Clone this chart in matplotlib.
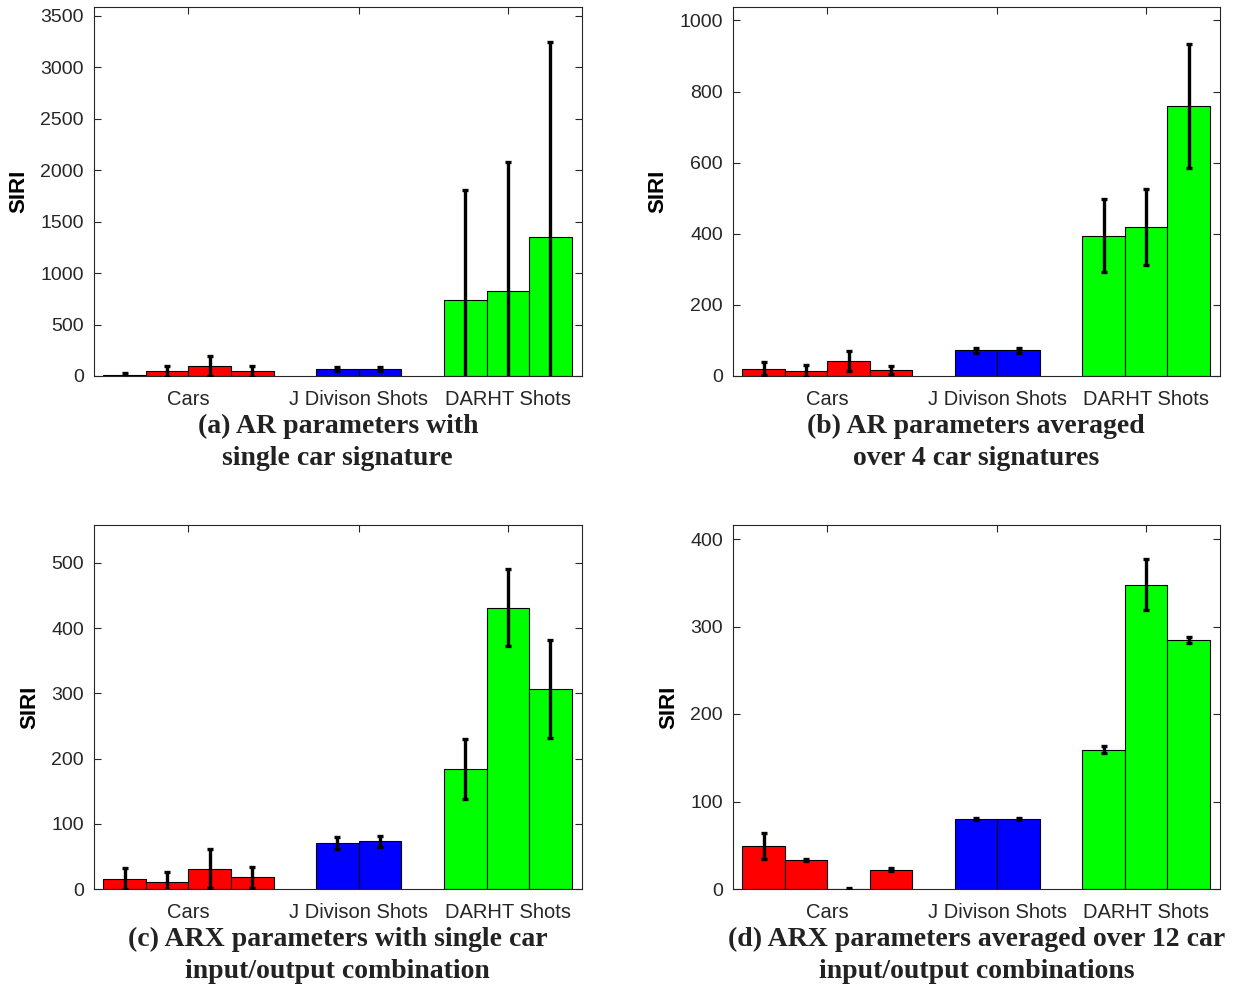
import numpy as np
import matplotlib
matplotlib.use("Agg")
import matplotlib.pyplot as plt

# bar positions: 4 car bars, 2 J Division, 3 DARHT
positions = [1, 2, 3, 4, 6, 7, 9, 10, 11]
bar_colors = ['#ff0000'] * 4 + ['#0000ff'] * 2 + ['#00ff00'] * 3
group_labels = ['Cars', 'J Divison Shots', 'DARHT Shots']
group_ticks = [2.5, 6.5, 10]

a_vals = [5, 45, 95, 45, 68, 68, 735, 830, 1350]
a_err = [20, 50, 95, 50, 15, 15, 1070, 1245, 1890]

b_vals = [20, 14, 41, 17, 72, 72, 395, 420, 760]
b_err = [18, 17, 28, 12, 8, 8, 102, 107, 175]

c_vals = [16, 11, 31, 18, 71, 73, 184, 431, 307]
c_err = [16, 15, 30, 16, 9, 8, 46, 59, 75]

d_vals = [49, 33, 0, 22, 80, 80, 159, 348, 285]
d_err = [15, 1.5, 1, 1.5, 0.8, 0.8, 4, 29, 3.3]

titles = ['(a) AR parameters with\nsingle car signature',
          '(b) AR parameters averaged\nover 4 car signatures',
          '(c) ARX parameters with single car\ninput/output combination',
          '(d) ARX parameters averaged over 12 car\ninput/output combinations']
ylims = [3580, 1037, 558, 416]
ysteps = [500, 200, 100, 100]

plt.rcParams['font.family'] = ['Liberation Sans', 'DejaVu Sans']
gray = '#262626'

fig = plt.figure(figsize=(12.38, 9.9), dpi=100)
boxes = [
    [93.5, 7.3, 582, 376],
    [732.7, 7.3, 1220, 376],
    [93.5, 525, 582, 889],
    [732.7, 525, 1220, 889],
]
W, H = 1238, 990

for i, (vals, errs) in enumerate([(a_vals, a_err), (b_vals, b_err),
                                  (c_vals, c_err), (d_vals, d_err)]):
    x0, y0, x1, y1 = boxes[i]
    ax = fig.add_axes([x0 / W, 1 - y1 / H, (x1 - x0) / W, (y1 - y0) / H])
    ax.bar(positions, vals, width=1.0, color=bar_colors,
           edgecolor='black', linewidth=0.8, zorder=2)
    ax.errorbar(positions, vals, yerr=errs, fmt='none', ecolor='black',
                elinewidth=2.4, capsize=2, capthick=2.4, zorder=3)
    ax.set_xlim(0.272, 11.74)
    ax.set_ylim(0, ylims[i])
    ax.set_yticks(np.arange(0, ylims[i], ysteps[i]))
    ax.set_xticks(group_ticks)
    ax.set_xticklabels(group_labels)
    ax.tick_params(direction='in', top=True, right=True, length=5,
                   width=0.8, color=gray, labelcolor=gray, labelsize=14,
                   pad=7)
    ax.tick_params(axis='x', labelsize=14.5, pad=10)
    for s in ax.spines.values():
        s.set_color(gray)
        s.set_linewidth(0.8)
    ax.set_ylabel('SIRI', fontsize=16, fontweight='bold', color='black',
                  labelpad=8)
    ax.text(0.5, -38 / (y1 - y0), titles[i], transform=ax.transAxes,
            ha='center', va='top', fontsize=20, fontweight='bold',
            family='Liberation Serif', color='#222222', linespacing=1.35)

fig.savefig('out.png', dpi=100)
